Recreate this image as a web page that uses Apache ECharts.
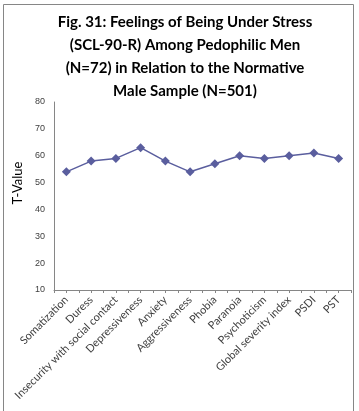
<!DOCTYPE html>
<html>
<head>
<meta charset="utf-8">
<script src="https://cdn.jsdelivr.net/npm/echarts@6/dist/echarts.min.js"></script>
<style>
html,body{margin:0;padding:0;background:#fff;}
#chart{width:359px;height:411px;}
</style>
</head>
<body>
<div id="chart"></div>
<script>
var titleText = "Fig. 31: Feelings of Being Under Stress\n(SCL-90-R) Among Pedophilic Men\n(N=72) in Relation to the Normative\nMale Sample (N=501)";
var categories = ["Somatization", "Duress", "Insecurity with social contact", "Depressiveness", "Anxiety", "Aggressiveness", "Phobia", "Paranoia", "Psychoticism", "Global severity index", "PSDI", "PST"];
var tValues = [54, 58, 59, 63, 58, 54, 57, 60, 59, 60, 61, 59];
var yMin = 10, yMax = 80, yStep = 10;
var yName = "T-Value";

var chart = echarts.init(document.getElementById('chart'), null, {renderer: 'canvas'});
var option = {
  animation: false,
  backgroundColor: '#ffffff',
  graphic: [{
    type: 'rect',
    shape: {x: 3.5, y: 4.5, width: 350, height: 420},
    style: {fill: 'none', stroke: '#868686', lineWidth: 1},
    silent: true,
    z: -1
  }],
  title: {
    text: titleText,
    left: 180,
    textAlign: 'center',
    top: 6,
    textStyle: {fontFamily: 'Lato', fontWeight: 'bold', fontSize: 15, lineHeight: 23, color: '#000'}
  },
  grid: {left: 54, right: 8, top: 102, bottom: 121, containLabel: false},
  xAxis: [{
    type: 'category',
    data: categories,
    boundaryGap: true,
    axisLine: {lineStyle: {color: '#868686', width: 1}},
    axisTick: {show: false},
    axisLabel: {interval: 0, rotate: 45, margin: 8, fontFamily: 'Lato', fontSize: 11, color: '#404040'}
  }, {
    type: 'value',
    position: 'bottom',
    min: 0, max: categories.length * 2, interval: 1,
    axisLine: {show: false},
    axisTick: {show: true, length: 3, lineStyle: {color: '#868686'}},
    axisLabel: {show: false},
    splitLine: {show: false}
  }],
  yAxis: {
    type: 'value',
    min: yMin, max: yMax, interval: yStep,
    name: yName,
    nameLocation: 'middle',
    nameGap: 28,
    nameTextStyle: {fontFamily: 'Lato', fontSize: 13, color: '#000', padding: [0, 0, 0, 26]},
    axisLine: {show: true, lineStyle: {color: '#868686', width: 1}},
    axisTick: {show: false},
    splitLine: {show: false},
    axisLabel: {margin: 9, fontFamily: 'Liberation Sans', fontSize: 9, color: '#404040'}
  },
  series: [{
    type: 'line',
    data: tValues,
    xAxisIndex: 0,
    symbol: 'diamond',
    symbolSize: 9,
    itemStyle: {color: '#5A5E9E'},
    lineStyle: {color: '#5A5E9E', width: 1.5}
  }]
};
chart.setOption(option);
</script>
</body>
</html>
